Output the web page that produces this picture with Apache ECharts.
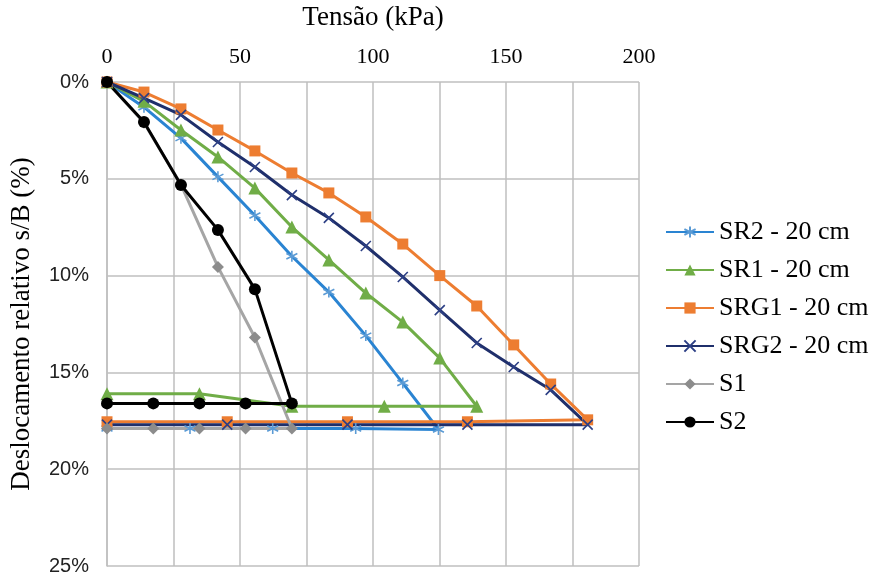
<!DOCTYPE html>
<html>
<head>
<meta charset="utf-8">
<script src="https://cdn.jsdelivr.net/npm/echarts@6/dist/echarts.min.js"></script>
<style>html,body{margin:0;padding:0;background:#fff}#c{width:877px;height:574px}</style>
</head>
<body>
<div id="c"></div>
<script>
const seriesNames = ['SR2 - 20 cm', 'SR1 - 20 cm', 'SRG1 - 20 cm', 'SRG2 - 20 cm', 'S1', 'S2'];

const sr2X = [0, 13.9, 27.8, 41.7, 55.6, 69.5, 83.4, 97.3, 111.2, 124.6, 93.5, 62.3, 31.2, 0];
const sr2Y = [0, 1.3, 2.9, 4.9, 6.9, 9.0, 10.85, 13.1, 15.55, 17.95, 17.9, 17.9, 17.9, 17.9];

const sr1X = [0, 13.9, 27.8, 41.7, 55.6, 69.5, 83.4, 97.3, 111.2, 125.1, 139.0, 104.25, 69.5, 34.75, 0];
const sr1Y = [0, 1.0, 2.48, 3.87, 5.48, 7.49, 9.19, 10.9, 12.4, 14.26, 16.75, 16.75, 16.75, 16.1, 16.1];

const srg1X = [0, 13.9, 27.8, 41.7, 55.6, 69.5, 83.4, 97.3, 111.2, 125.1, 139.0, 152.9, 166.8, 180.7, 135.5, 90.4, 45.2, 0];
const srg1Y = [0, 0.52, 1.39, 2.48, 3.56, 4.7, 5.73, 6.97, 8.37, 10.0, 11.57, 13.58, 15.6, 17.45, 17.55, 17.55, 17.55, 17.55];

const srg2X = [0, 13.9, 27.8, 41.7, 55.6, 69.5, 83.4, 97.3, 111.2, 125.1, 139.0, 152.9, 166.8, 180.7, 135.5, 90.4, 45.2, 0];
const srg2Y = [0, 0.83, 1.7, 3.1, 4.39, 5.84, 7.02, 8.47, 10.07, 11.78, 13.48, 14.72, 15.9, 17.7, 17.7, 17.7, 17.7, 17.7];

const s1X = [0, 13.9, 27.8, 41.7, 55.6, 69.5, 52.1, 34.75, 17.4, 0];
const s1Y = [0, 2.1, 5.3, 9.55, 13.2, 17.9, 17.9, 17.9, 17.9, 17.9];

const s2X = [0, 13.9, 27.8, 41.7, 55.6, 69.5, 52.1, 34.75, 17.4, 0];
const s2Y = [0, 2.07, 5.32, 7.64, 10.7, 16.6, 16.6, 16.6, 16.6, 16.6];

const xTicks = [0, 50, 100, 150, 200];
const yTicks = [0, 5, 10, 15, 20, 25];

function zip(xs, ys) { return xs.map((x, i) => [x, ys[i]]); }

const XMARK = 'path://M0,0 L10,10 M10,0 L0,10';
const STAR = 'path://M5,0 L5,10 M0.7,2.5 L9.3,7.5 M0.7,7.5 L9.3,2.5';

function mk(name, xs, ys, lineColor, markColor, symbol, size, stroke) {
  return {
    name: name,
    type: 'line',
    data: zip(xs, ys),
    symbol: symbol,
    symbolSize: size,
    showAllSymbol: true,
    clip: false,
    animation: false,
    lineStyle: { color: lineColor, width: 3 },
    itemStyle: stroke
      ? { color: markColor, borderColor: markColor, borderWidth: 1.6 }
      : { color: markColor, borderWidth: 0 },
    emphasis: { disabled: true }
  };
}

const chart = echarts.init(document.getElementById('c'));
chart.setOption({
  backgroundColor: '#ffffff',
  animation: false,
  grid: { left: 107, right: 238, top: 82, bottom: 8, containLabel: false, outerBoundsMode: 'none' },
  legend: {
    orient: 'vertical',
    left: 660,
    top: 214,
    itemWidth: 48,
    itemHeight: 14,
    itemGap: 12,
    data: seriesNames,
    textStyle: { fontFamily: 'Liberation Serif', fontSize: 26, color: '#000' }
  },
  xAxis: {
    type: 'value',
    position: 'top',
    min: xTicks[0],
    max: xTicks[xTicks.length - 1],
    interval: 50,
    name: 'Tensão (kPa)',
    nameLocation: 'middle',
    nameGap: 51,
    nameTextStyle: { fontFamily: 'Liberation Serif', fontSize: 27, color: '#000' },
    axisLine: { show: false },
    axisTick: { show: false },
    axisLabel: { fontFamily: 'Liberation Serif', fontSize: 22, color: '#000', margin: 14 },
    splitLine: { show: true, lineStyle: { color: '#bfbfbf', width: 1.5 } },
    minorTick: { show: false, splitNumber: 2 },
    minorSplitLine: { show: true, lineStyle: { color: '#bfbfbf', width: 1.5 } }
  },
  yAxis: {
    type: 'value',
    inverse: true,
    min: yTicks[0],
    max: yTicks[yTicks.length - 1],
    interval: 5,
    name: 'Deslocamento relativo s/B (%)',
    nameLocation: 'middle',
    nameGap: 72,
    nameTextStyle: { fontFamily: 'Liberation Serif', fontSize: 27, color: '#000' },
    axisLine: { show: true, lineStyle: { color: '#bfbfbf', width: 1.5 } },
    axisTick: { show: false },
    axisLabel: { fontFamily: 'Liberation Sans', fontSize: 20, color: '#222', margin: 18, formatter: '{value}%' },
    splitLine: { show: true, lineStyle: { color: '#bfbfbf', width: 1.5 } }
  },
  series: [
    mk(seriesNames[0], sr2X, sr2Y, '#2a84d2', '#5b9bd5', STAR, 11, true),
    mk(seriesNames[1], sr1X, sr1Y, '#70ad47', '#70ad47', 'triangle', 13, false),
    mk(seriesNames[2], srg1X, srg1Y, '#ed7d31', '#ed7d31', 'rect', 11, false),
    mk(seriesNames[3], srg2X, srg2Y, '#1f2f6b', '#2c3f85', XMARK, 10, true),
    mk(seriesNames[4], s1X, s1Y, '#a5a5a5', '#8c8c8c', 'diamond', 12, false),
    mk(seriesNames[5], s2X, s2Y, '#000000', '#000000', 'circle', 12, false)
  ]
});
</script>
</body>
</html>
